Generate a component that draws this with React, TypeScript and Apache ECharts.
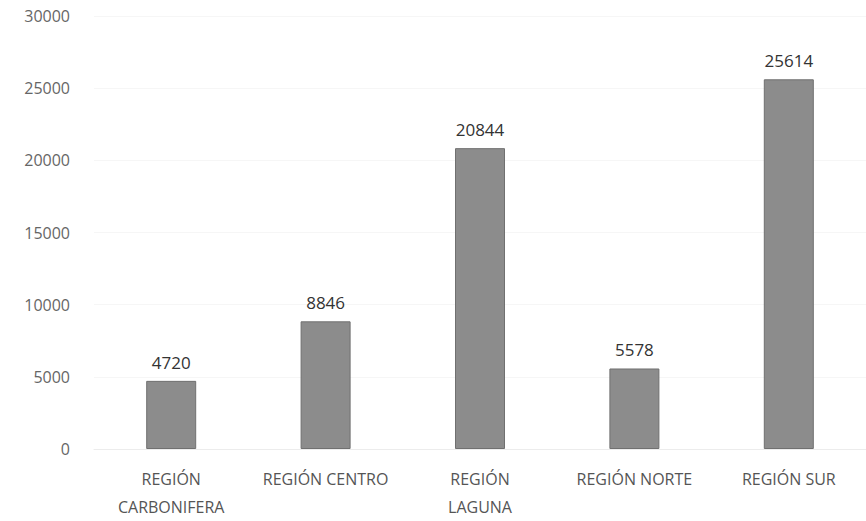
import React, { useEffect, useRef } from "react";
import * as echarts from "echarts";

const categories = ["REGIÓN\nCARBONIFERA", "REGIÓN CENTRO", "REGIÓN\nLAGUNA", "REGIÓN NORTE", "REGIÓN SUR"];
const values = [4720, 8846, 20844, 5578, 25614];
const yTicks = [0, 5000, 10000, 15000, 20000, 25000, 30000];

export default function App() {
  const ref = useRef<HTMLDivElement>(null);
  useEffect(() => {
    document.body.style.margin = "0";
    const chart = echarts.init(ref.current!, null, { renderer: "svg" });
    chart.setOption({
      animation: false,
      backgroundColor: "#ffffff",
      grid: { left: 94, right: -6, top: 16, bottom: 69, containLabel: false },
      xAxis: {
        type: "category",
        data: categories,
        axisLine: { show: true, lineStyle: { color: "#ececec" } },
        axisTick: { show: false },
        axisLabel: {
          color: "#555",
          fontFamily: "Open Sans",
          fontSize: 16,
          margin: 16,
          lineHeight: 28,
          interval: 0,
        },
      },
      yAxis: {
        type: "value",
        min: yTicks[0],
        max: yTicks[yTicks.length - 1],
        interval: 5000,
        axisLine: { show: false },
        axisTick: { show: false },
        splitLine: { show: true, lineStyle: { color: "#f6f6f6" } },
        axisLabel: {
          color: "#666",
          fontFamily: "Open Sans",
          fontSize: 16,
          margin: 24,
          formatter: (v: number) => String(v),
        },
      },
      series: [
        {
          type: "bar",
          data: values,
          barWidth: 50,
          itemStyle: { color: "#8c8c8c", borderColor: "#707070", borderWidth: 1 },
          label: {
            show: true,
            position: "top",
            distance: 10,
            color: "#333",
            fontFamily: "Open Sans",
            fontSize: 17,
          },
        },
      ],
    });
    return () => chart.dispose();
  }, []);
  return <div ref={ref} style={{ width: 866, height: 521 }} />;
}
